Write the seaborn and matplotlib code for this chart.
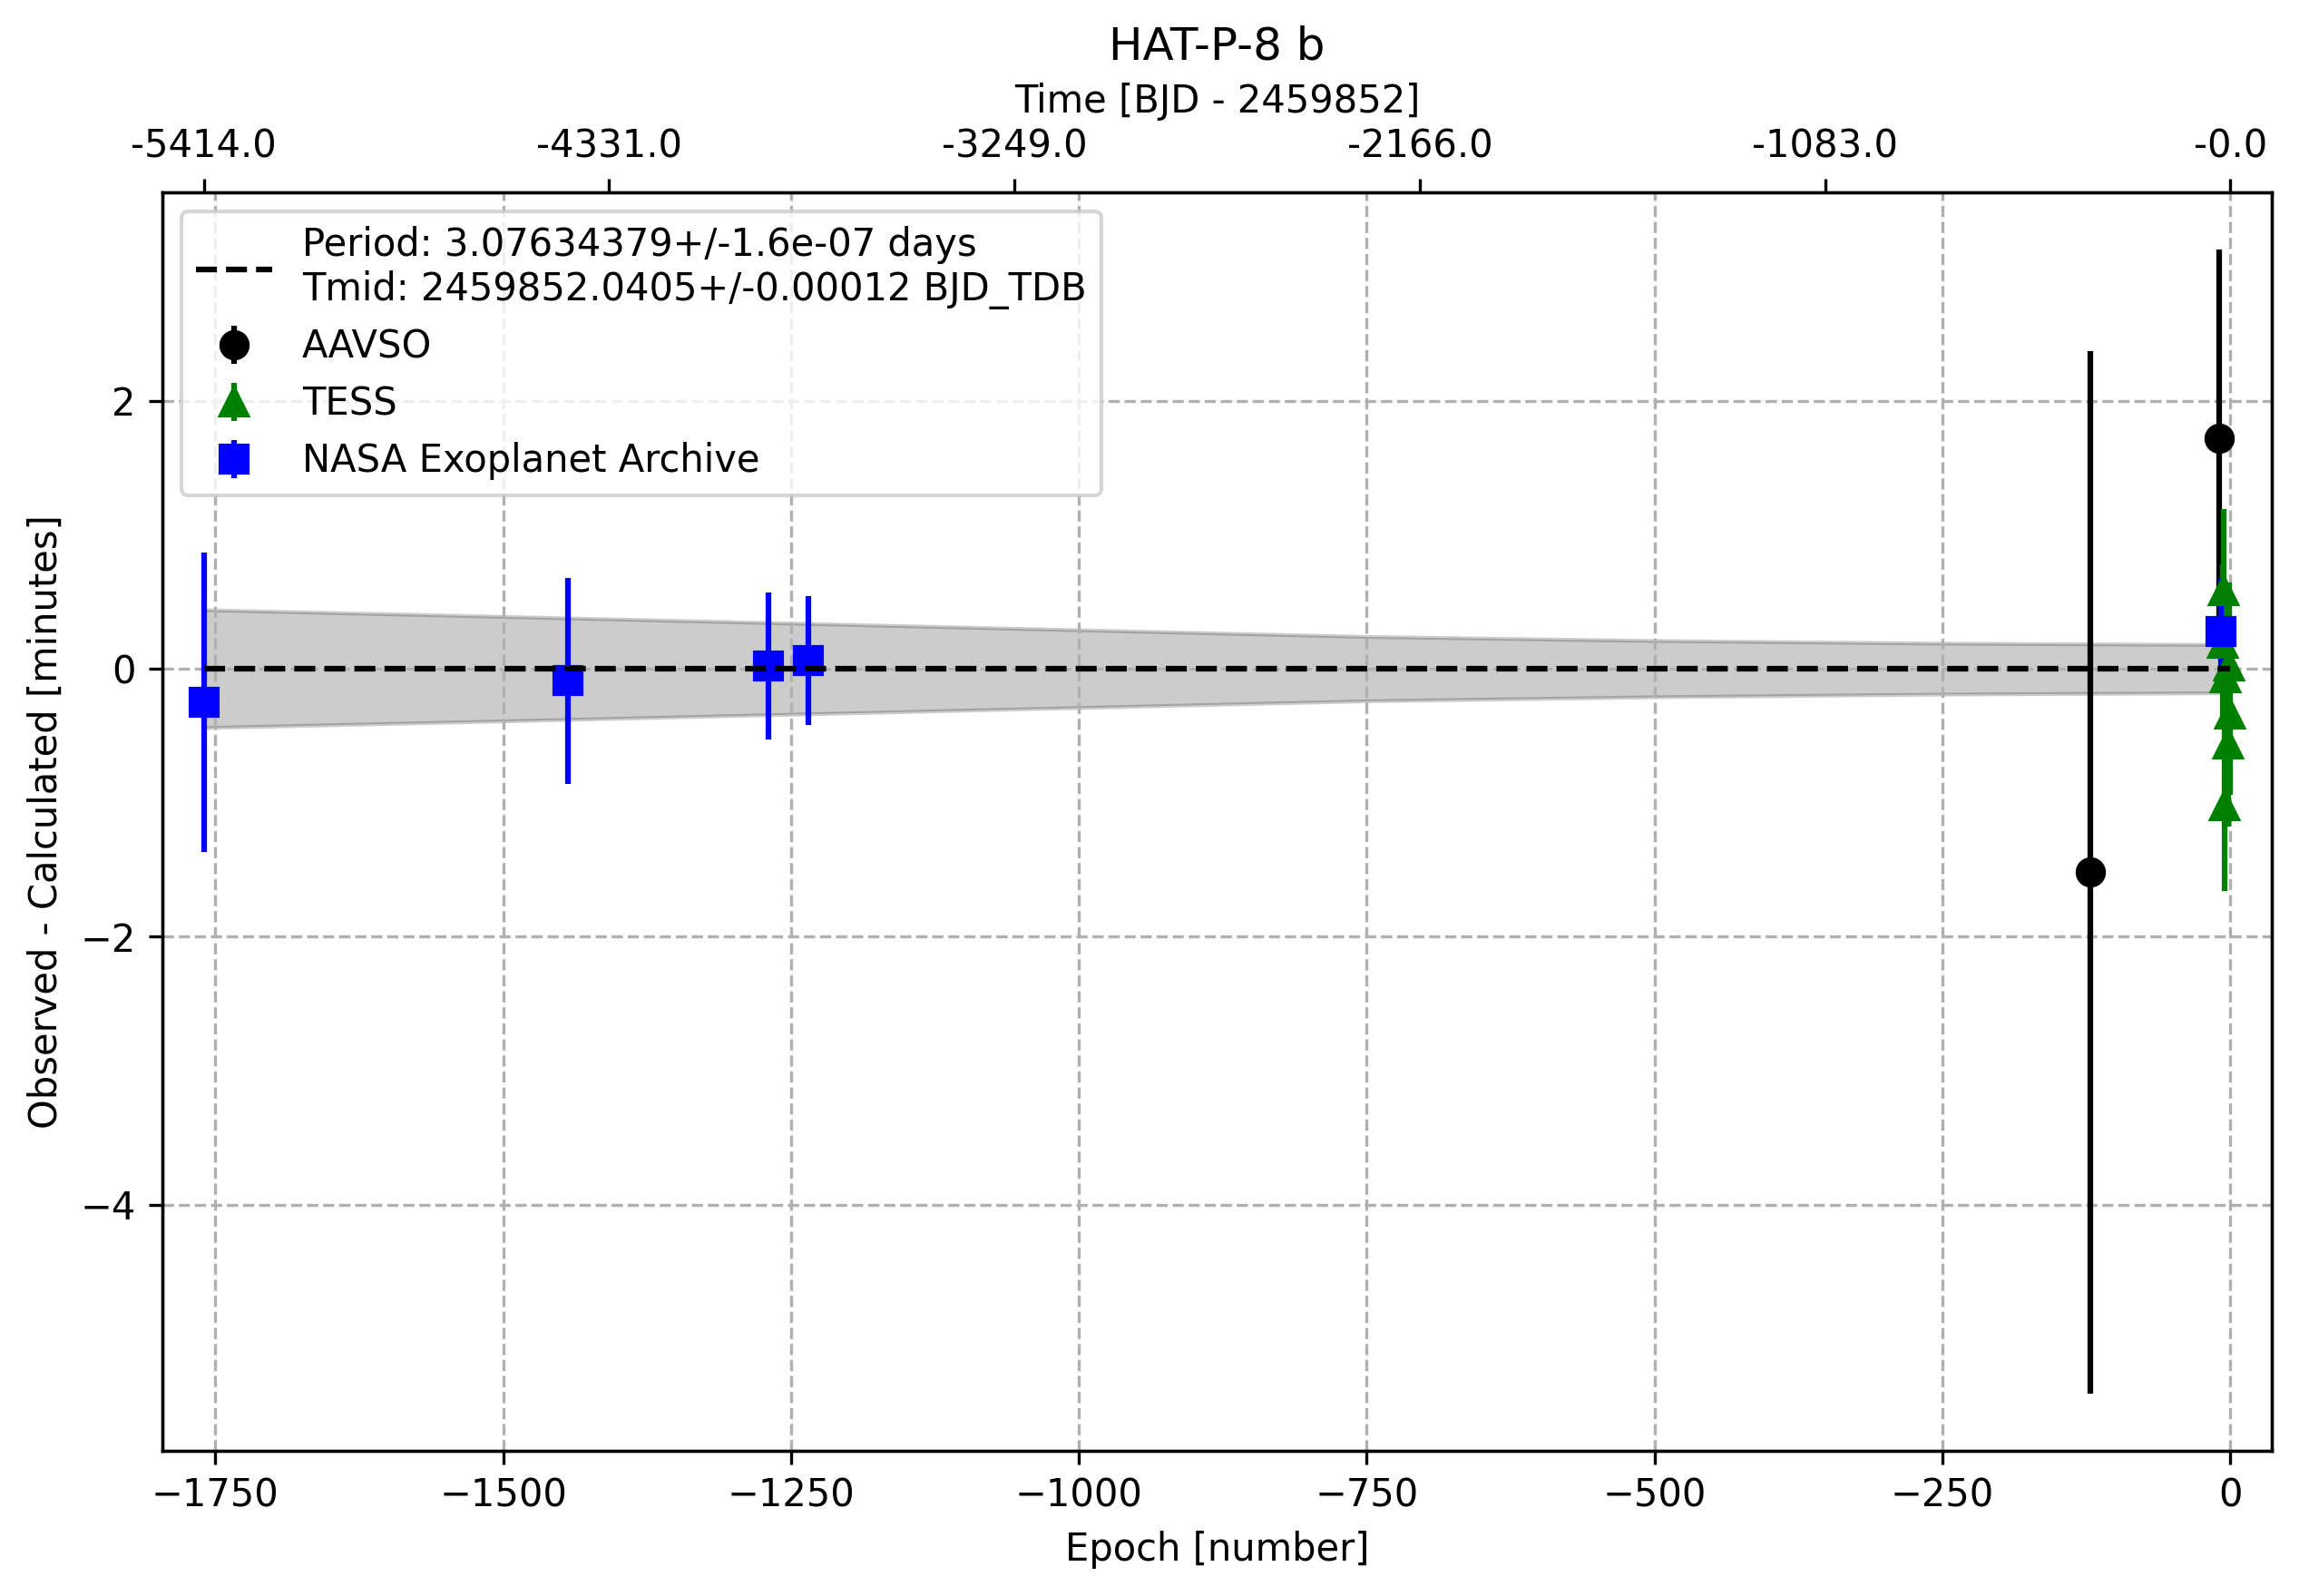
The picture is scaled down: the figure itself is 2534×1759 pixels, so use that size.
"""O-C diagram for HAT-P-8 b with linear ephemeris uncertainty band."""

import matplotlib
matplotlib.use("Agg")
import matplotlib.pyplot as plt
import seaborn as sns

# --- data ------------------------------------------------------------------
aavso_epoch = [-122, -10]
aavso_oc = [-1.52, 1.72]
aavso_err = [3.89, 1.41]

tess_epoch = [-6, -7, -1, -4, 0, -2, -5]
tess_oc = [0.58, 0.19, 0.02, -0.07, -0.34, -0.56, -1.02]
tess_err = [0.61, 0.59, 0.62, 0.55, 0.60, 0.62, 0.64]

nasa_epoch = [-1760, -1444, -1270, -1235, -8]
nasa_oc = [-0.25, -0.09, 0.02, 0.06, 0.28]
nasa_err = [1.12, 0.77, 0.55, 0.48, 0.40]

# half-width of the ephemeris uncertainty band [minutes]
band_epoch = [-1760, -1500, -1250, -1000, -750, -500, -250, 0]
band_width = [0.44, 0.39, 0.34, 0.29, 0.24, 0.21, 0.19, 0.18]

top_tick_epoch = [-1760, -1408, -1056, -704, -352, 0]
top_tick_labels = ["-5414.0", "-4331.0", "-3249.0", "-2166.0", "-1083.0", "-0.0"]

ephem_label = ("Period: 3.07634379+/-1.6e-07 days\n"
               "Tmid: 2459852.0405+/-0.00012 BJD_TDB")

# --- figure -----------------------------------------------------------------
fig = plt.figure(figsize=(2534 / 300, 1759 / 300), dpi=300)
ax = fig.add_subplot(111)
fig.subplots_adjust(left=0.0706, right=0.9882, top=0.8796, bottom=0.0911)

ax.fill_between(band_epoch, [-w for w in band_width], band_width,
                color="k", alpha=0.2)

ax.errorbar(aavso_epoch, aavso_oc, yerr=aavso_err, ls="none",
            marker="o", color="k", markersize=7, label="AAVSO")
ax.errorbar(tess_epoch, tess_oc, yerr=tess_err, ls="none",
            marker="^", color="g", markersize=7, label="TESS")
ax.errorbar(nasa_epoch, nasa_oc, yerr=nasa_err, ls="none",
            marker="s", color="b", markersize=7, label="NASA Exoplanet Archive")

all_epochs = aavso_epoch + tess_epoch + nasa_epoch
sns.lineplot(x=[min(all_epochs), max(all_epochs)], y=[0, 0], ax=ax,
             color="k", linestyle="--", label=ephem_label, zorder=3)

ax.set_xlim(-1796, 36)
ax.set_xlabel("Epoch [number]")
ax.set_ylabel("Observed - Calculated [minutes]")
ax.grid(True, linestyle="--")
ax.legend(loc="upper left")

ax2 = ax.twiny()
ax2.set_xlim(ax.get_xlim())
ax2.set_xticks(top_tick_epoch)
ax2.set_xticklabels(top_tick_labels)
ax2.set_xlabel("Time [BJD - 2459852]")
ax2.set_title("HAT-P-8 b")

fig.savefig("out.png", dpi=300)
plt.close(fig)
